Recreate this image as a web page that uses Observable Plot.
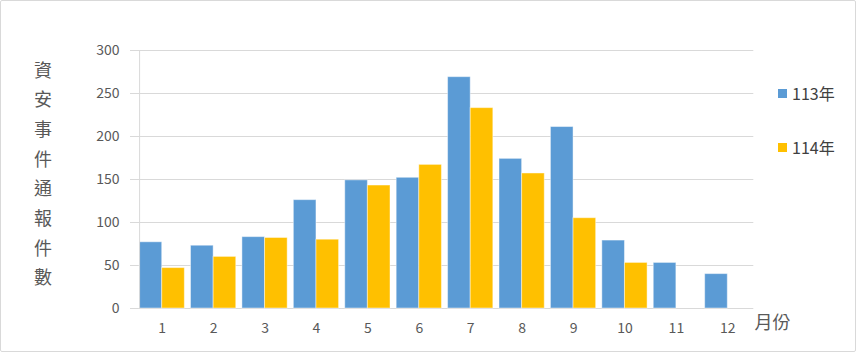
<!DOCTYPE html>
<html><head><meta charset="utf-8">
<script src="https://cdn.jsdelivr.net/npm/d3@7"></script>
<script src="https://cdn.jsdelivr.net/npm/@observablehq/plot@0.6"></script>
<style>
body{margin:0;background:#fff;}
#wrap{position:relative;width:856px;height:353px;overflow:hidden;font-family:'Noto Sans CJK TC',sans-serif;background:#fff;}
#border{position:absolute;left:0;top:0;width:856px;height:352px;box-sizing:border-box;border:1px solid #d9d9d9;border-radius:2px;pointer-events:none;}
#legend{position:absolute;left:778px;top:84px;}
.item{position:absolute;left:0;display:flex;align-items:center;white-space:nowrap;font-size:16px;color:#404040;line-height:18px;}
.sw{width:9px;height:9px;margin-right:5px;}
</style></head><body>
<div id="wrap"><div id="chart"></div><div id="legend"></div><div id="border"></div></div>
<script>
const months = [1,2,3,4,5,6,7,8,9,10,11,12];
const series = ["113年","114年"];
const values113 = [77,73,83,126,149,152,269,174,211,79,53,40];
const values114 = [47,60,82,80,143,167,233,157,105,53,null,null];
const yTicks = [0,50,100,150,200,250,300];
const colors = ["#5B9BD5","#FFC000"];
const yTitle = "資安事件通報件數";
const xTitle = "月份";

const rows = [];
months.forEach((m,i)=>{
  if (values113[i] != null) rows.push({month:m, series:series[0], value:values113[i]});
  if (values114[i] != null) rows.push({month:m, series:series[1], value:values114[i]});
});

const W = 856, ML = 136, MR = 103;
const padInner = 0.12;
const step = (W - ML - MR) / months.length;
const halfGap = step * padInner / 2;

const chart = Plot.plot({
  width:W, height:353,
  marginLeft:ML, marginRight:MR, marginTop:50, marginBottom:45,
  style:{fontFamily:"'Noto Sans CJK TC', sans-serif", background:"transparent", overflow:"visible"},
  fx:{domain:months, paddingInner:padInner, paddingOuter:padInner/2, round:false, label:null},
  x:{domain:series, padding:0, round:false, axis:null},
  y:{domain:[0,300], label:null},
  color:{domain:series, range:colors},
  marks:[
    Plot.ruleY(yTicks, {y:d=>d, stroke:"#d9d9d9", insetLeft:-halfGap - 0.3, insetRight:-halfGap - 0.3}),
    Plot.axisY({ticks:yTicks, tickSize:halfGap + 6, tickPadding:11, stroke:"#d9d9d9", fill:"#595959", fontSize:14, label:null}),
    Plot.axisFx({tickSize:0, tickPadding:15, fill:"#595959", fontSize:14, label:null, anchor:"bottom"}),
    Plot.barY(rows, {fx:"month", x:"series", y:"value", fill:"series", stroke:"#fff", strokeOpacity:0.45, strokeWidth:1}),
    Plot.frame({anchor:"left", stroke:"#d9d9d9", facet:"super"}),
    Plot.text([yTitle.split("").join("\n")], {frameAnchor:"left", dx:-96.5, dy:-8.5, lineHeight:1.65, fontSize:18, fill:"#595959", textAnchor:"middle", facet:"super"}),
    Plot.text([xTitle], {frameAnchor:"bottom-right", dx:4, dy:20, textAnchor:"start", fontSize:18, fill:"#595959", facet:"super"})
  ]
});
document.getElementById("chart").appendChild(chart);

const legend = document.getElementById("legend");
series.forEach((s,i)=>{
  const it = document.createElement("div");
  it.className = "item";
  it.style.top = (i*54) + "px";
  it.innerHTML = `<span class="sw" style="background:${colors[i]}"></span><span>${s}</span>`;
  legend.appendChild(it);
});
</script>
</body></html>
